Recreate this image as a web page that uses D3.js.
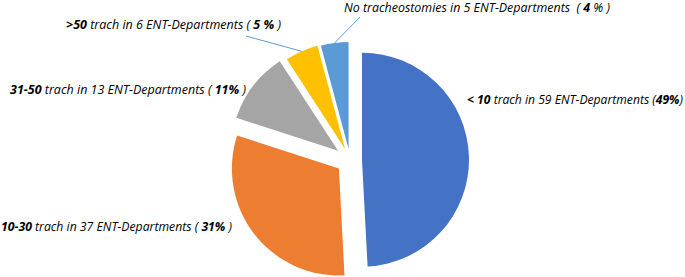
<!DOCTYPE html>
<html>
<head>
<meta charset="utf-8">
<script src="https://cdn.jsdelivr.net/npm/d3@7"></script>
<style>
  html, body { margin: 0; padding: 0; background: #fff; }
  svg text { font-family: 'Liberation Sans Narrow', 'Open Sans', sans-serif; font-style: italic; white-space: pre; }
</style>
</head>
<body>
<div id="chart"></div>
<script>
'use strict';

// Data
const ranges = ['< 10', '10-30', '31-50', '>50', '4'];
const departments = [59, 37, 13, 6, 5];
const percents = ['49%', '31%', '11%', '5 %', '4 %'];
const colors = ['#4472C4', '#ED7D31', '#A5A5A5', '#FFC000', '#5B9BD5'];

// Layout
const width = 685;
const height = 277;
const cx = 350, cy = 160, radius = 107;
const explode = [12, 14, 15, 12, 11];

const svg = d3.select('#chart')
  .append('svg')
  .attr('width', width)
  .attr('height', height);

const pie = d3.pie().sort(null).value(d => d);
const arcs = pie(departments);
const arc = d3.arc().innerRadius(0).outerRadius(radius);

function offset(d, i) {
  const mid = (d.startAngle + d.endAngle) / 2;
  return [cx + explode[i] * Math.sin(mid), cy - explode[i] * Math.cos(mid)];
}

// Slices
svg.selectAll('.slice')
  .data(arcs)
  .join('path')
  .attr('class', 'slice')
  .attr('transform', (d, i) => `translate(${offset(d, i)})`)
  .attr('d', arc)
  .attr('fill', (d, i) => colors[i]);

// Leader lines for the two small slices
const leaderEnds = { 3: [246, 36], 4: [360, 17] };
Object.keys(leaderEnds).forEach(k => {
  const i = +k;
  const d = arcs[i];
  const [ox, oy] = offset(d, i);
  const mid = (d.startAngle + d.endAngle) / 2;
  svg.append('line')
    .attr('x1', ox + radius * Math.sin(mid))
    .attr('y1', oy - radius * Math.cos(mid))
    .attr('x2', leaderEnds[k][0])
    .attr('y2', leaderEnds[k][1])
    .attr('stroke', '#5B9BD5')
    .attr('stroke-width', 1);
});

// Labels
const labelPos = [[467, 104], [1, 231], [10, 94], [66, 29], [344, 12]];
const labelWidth = [216, 231, 236, 215, 266];

function labelParts(i) {
  if (i === 4) {
    return [
      { t: `No tracheostomies in ${departments[i]} ENT-Departments  ( `, b: false },
      { t: ranges[i], b: true },
      { t: ' % )', b: false }
    ];
  }
  const open = i === 0 ? ' (' : ' ( ';
  const close = i === 0 ? ')' : ' )';
  return [
    { t: ranges[i], b: true },
    { t: ` trach in ${departments[i]} ENT-Departments${open}`, b: false },
    { t: percents[i], b: true },
    { t: close, b: false }
  ];
}

arcs.forEach((d, i) => {
  const text = svg.append('text')
    .attr('x', labelPos[i][0])
    .attr('y', labelPos[i][1])
    .attr('font-size', 12.5)
    .attr('fill', '#000')
    .attr('textLength', labelWidth[i])
    .attr('lengthAdjust', 'spacingAndGlyphs');
  labelParts(i).forEach(p => {
    text.append('tspan')
      .attr('font-weight', p.b ? 'bold' : 'normal')
      .text(p.t);
  });
});
</script>
</body>
</html>
